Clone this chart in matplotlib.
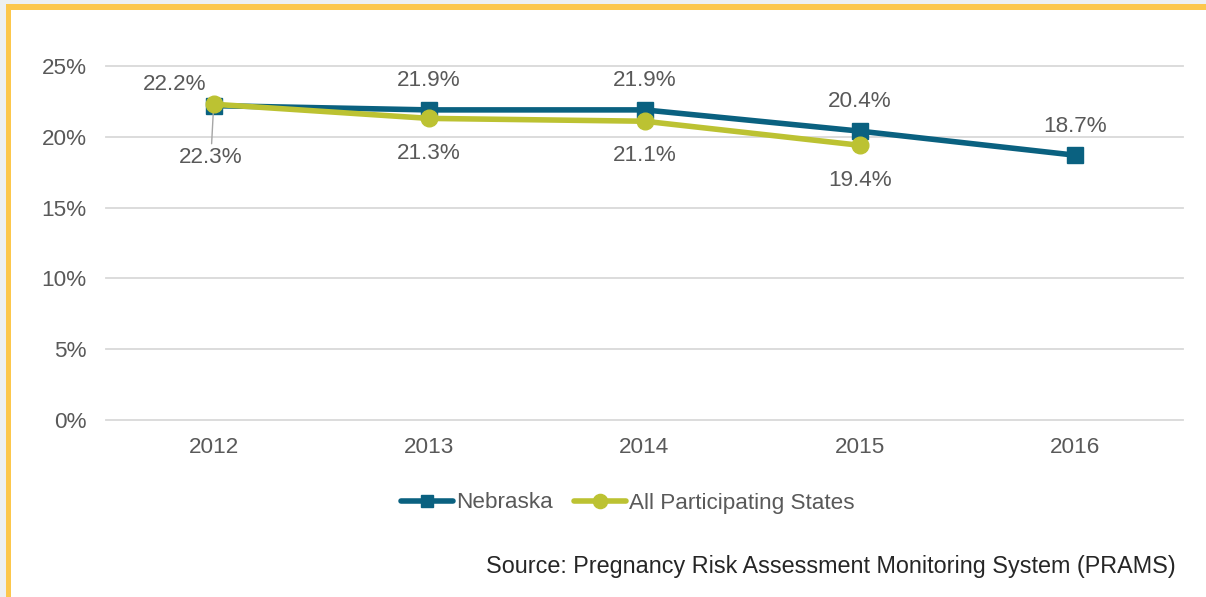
import matplotlib
matplotlib.use("Agg")
import matplotlib.pyplot as plt
from matplotlib.patches import Rectangle

years = ["2012", "2013", "2014", "2015", "2016"]
nebraska = [22.2, 21.9, 21.9, 20.4, 18.7]
all_states = [22.3, 21.3, 21.1, 19.4]
yticks = [0, 5, 10, 15, 20, 25]

NEB_COLOR = "#0a6180"
ALL_COLOR = "#bcc232"
TXT = "#595959"
W, H = 1206, 597

plt.rcParams['font.family'] = ['Liberation Sans', 'DejaVu Sans']

fig = plt.figure(figsize=(W / 100, H / 100), dpi=100)
fig.patch.set_facecolor("#edf0f2")

# background frame axes (yellow top + left border, white interior)
bg = fig.add_axes([0, 0, 1, 1], zorder=-10)
bg.set_xlim(0, W)
bg.set_ylim(H, 0)
bg.axis("off")
bg.add_patch(Rectangle((6, 4), W - 6, H - 4, facecolor="#fcc74c", edgecolor="none"))
bg.add_patch(Rectangle((11, 10), W - 11, H - 10, facecolor="white", edgecolor="none"))

left, right = 106 / W, 1183 / W
bottom, top = (H - 420) / H, (H - 66) / H
ax = fig.add_axes([left, bottom, right - left, top - bottom], zorder=1)
ax.set_facecolor("none")
x = list(range(len(years)))
ax.set_xlim(-0.5, len(years) - 0.5)
ax.set_ylim(0, 25)

for yv in yticks:
    ax.axhline(yv, color="#d9d9d9", lw=1.3, zorder=1, clip_on=False)

ax.plot(x, nebraska, color=NEB_COLOR, lw=4, marker="s", ms=11,
        zorder=3, label="Nebraska", solid_capstyle="round")
ax.plot(x[:len(all_states)], all_states, color=ALL_COLOR, lw=4, marker="o",
        ms=12, zorder=4, label="All Participating States", solid_capstyle="round")

for s in ax.spines.values():
    s.set_visible(False)
fs = 16.2
ax.tick_params(length=0, labelsize=fs, colors=TXT)
ax.tick_params(axis="x", pad=12)
ax.tick_params(axis="y", pad=14)
ax.set_yticks(yticks)
ax.set_yticklabels([f"{v}%" for v in yticks])
ax.set_xticks(x)
ax.set_xticklabels(years)

# Nebraska labels (above)
for i, v in enumerate(nebraska):
    if i == 0:
        ax.annotate(f"{v}%", (x[i], v), xytext=(-28, 15), textcoords="offset points",
                    ha="center", va="center", fontsize=fs, color=TXT)
    else:
        ax.annotate(f"{v}%", (x[i], v), xytext=(0, 21), textcoords="offset points",
                    ha="center", va="center", fontsize=fs, color=TXT)
# All states labels (below)
for i, v in enumerate(all_states):
    if i == 0:
        ax.annotate(f"{v}%", (x[i], v), xytext=(-2, -38), textcoords="offset points",
                    ha="center", va="center", fontsize=fs, color=TXT,
                    arrowprops=dict(arrowstyle="-", color="#a6a6a6", lw=1,
                                    shrinkA=0, shrinkB=0))
    else:
        ax.annotate(f"{v}%", (x[i], v), xytext=(0, -25), textcoords="offset points",
                    ha="center", va="center", fontsize=fs, color=TXT)

leg = ax.legend(loc="center",
                bbox_to_anchor=((628 - 106) / 1077, (H - 503 - 177) / (420 - 66)),
                ncol=2, frameon=False, fontsize=fs, handlelength=2.3,
                handletextpad=0.15, columnspacing=0.95, labelcolor=TXT,
                markerscale=0.85)

fig.text(1176 / W, (H - 566) / H,
         "Source: Pregnancy Risk Assessment Monitoring System (PRAMS)",
         ha="right", va="center", fontsize=16.8, color="#262626")

fig.savefig("out.png", dpi=100, facecolor=fig.get_facecolor())
